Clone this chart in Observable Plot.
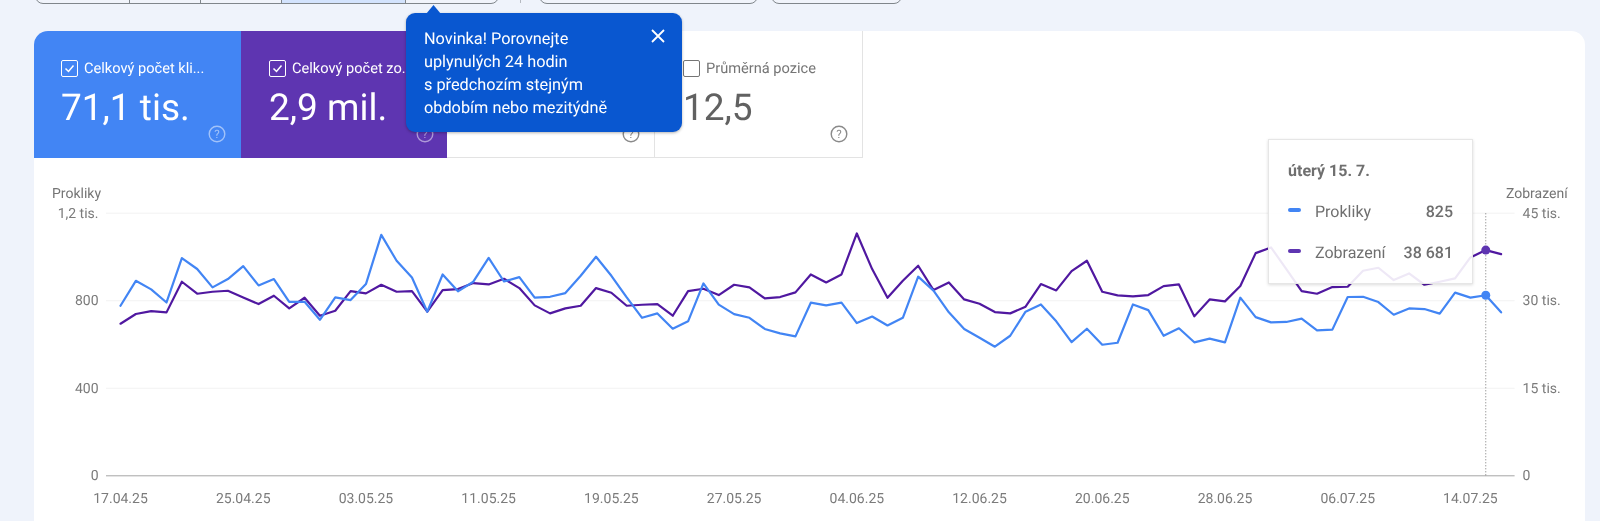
<!DOCTYPE html>
<html lang="cs">
<head>
<meta charset="utf-8">
<script src="https://cdn.jsdelivr.net/npm/d3@7"></script>
<script src="https://cdn.jsdelivr.net/npm/@observablehq/plot@0.6"></script>
<style>
html,body{margin:0;padding:0;background:#eff3fb;}
#page{position:relative;width:1600px;height:521px;overflow:hidden;background:#eff3fb;font-family:Roboto,sans-serif;color:#757575;text-rendering:geometricPrecision;}
#page div,#page span{position:absolute;box-sizing:border-box;white-space:nowrap;}
#card{left:34px;top:31px;width:1551px;height:520px;background:#fff;border-radius:14px 14px 0 0;}
.tab{top:31px;height:127px;will-change:transform;}
#t1{left:34px;width:207px;background:#4285f4;border-top-left-radius:14px;}
#t2{left:241px;width:206px;background:#5e35b1;}
#t3{left:447px;width:208px;background:#fff;border-bottom:1px solid #e3e3e3;border-right:1px solid #e3e3e3;}
#t4{left:655px;width:208px;background:#fff;border-bottom:1px solid #e3e3e3;border-right:1px solid #e3e3e3;}
.tab .lbl{left:51px;top:27px;font-size:14.6px;line-height:20px;}
.tab .big{left:28px;top:56px;font-size:37px;line-height:44px;}
.tab .chk{left:28px;top:29px;width:17px;height:17px;border:1.5px solid currentColor;border-radius:2px;}
.tab svg{position:absolute;}
.tab .hlp{left:175px;top:94px;}
#t1 .lbl,#t1 .big,#t1 .chk,#t1 svg:not(.hlp){margin-left:-1px;}
#t1 .hlp{margin-left:-1px;}
.on{color:#fff;}
.on .hlp{opacity:.5;}
.btn{top:-20px;height:24px;border:1px solid #80868b;border-radius:8px;background:#f1f4fb;}
.seg{top:-20px;height:24px;border-right:1px solid #80868b;}
#pop{left:406px;top:13px;width:276px;height:119px;background:#0957d0;border-radius:9px;color:#fff;box-shadow:0 1px 3px rgba(0,0,0,.3);z-index:5;will-change:transform;}
#pop .ln{left:18px;font-size:16.3px;line-height:22px;}
#arrow{left:426px;top:5px;width:15px;height:9px;background:#0957d0;clip-path:polygon(50% 0,100% 100%,0 100%);z-index:6;}
#tip{left:1268px;top:139px;width:205px;height:145px;background:rgba(255,255,255,.9);border:1px solid #e6e6e6;box-shadow:0 1px 3px rgba(0,0,0,.14);z-index:5;color:#6f6f6f;will-change:transform;}
#tip .d{left:19px;top:21px;font-size:16px;font-weight:700;line-height:20px;}
#tip .n{left:46px;font-size:16px;line-height:20px;}
#tip .v{right:19px;font-size:16px;font-weight:500;line-height:20px;}
#tip .sw{left:19px;width:13px;height:4px;border-radius:2px;}
.axt{font-size:14px;line-height:16px;top:186px;z-index:4;will-change:transform;}
#plotwrap{left:0;top:0;width:1600px;height:521px;z-index:3;will-change:transform;}
#plotwrap svg{display:block;}
</style>
</head>
<body>
<div id="page">
  <div class="btn" style="left:35px;width:464px"></div>
  <div style="left:282px;top:-20px;width:123px;height:23px;background:#d3e3fd"></div>
  <div class="seg" style="left:36px;width:94px"></div>
  <div class="seg" style="left:130px;width:71px"></div>
  <div class="seg" style="left:201px;width:81px"></div>
  <div class="seg" style="left:282px;width:124px"></div>
  <div style="left:520px;top:0;width:1px;height:3px;background:#b5b9c0"></div>
  <div class="btn" style="left:539px;width:219px"></div>
  <div class="btn" style="left:771px;width:131px"></div>

  <div id="card"></div>
  <div class="tab on" id="t1">
    <div class="chk"></div><svg style="left:31px;top:32px" width="11" height="11" viewBox="0 0 11 11"><path d="M1.5 5.5l3 3 5-6" fill="none" stroke="#fff" stroke-width="1.5"/></svg>
    <div class="lbl">Celkový počet kli...</div>
    <div class="big">71,1 tis.</div>
    <svg class="hlp" width="18" height="18" viewBox="0 0 18 18"><circle cx="9" cy="9" r="7.8" fill="none" stroke="#fff" stroke-width="1.4"/><text x="9" y="13" text-anchor="middle" font-size="11.5" font-family="Roboto" fill="#fff">?</text></svg>
  </div>
  <div class="tab on" id="t2">
    <div class="chk"></div><svg style="left:31px;top:32px" width="11" height="11" viewBox="0 0 11 11"><path d="M1.5 5.5l3 3 5-6" fill="none" stroke="#fff" stroke-width="1.5"/></svg>
    <div class="lbl">Celkový počet zo...</div>
    <div class="big">2,9 mil.</div>
    <svg class="hlp" width="18" height="18" viewBox="0 0 18 18"><circle cx="9" cy="9" r="7.8" fill="none" stroke="#fff" stroke-width="1.4"/><text x="9" y="13" text-anchor="middle" font-size="11.5" font-family="Roboto" fill="#fff">?</text></svg>
  </div>
  <div class="tab" id="t3">
    <svg class="hlp" width="18" height="18" viewBox="0 0 18 18"><circle cx="9" cy="9" r="7.8" fill="none" stroke="#8a8a8a" stroke-width="1.4"/><text x="9" y="13" text-anchor="middle" font-size="11.5" font-family="Roboto" fill="#8a8a8a">?</text></svg>
  </div>
  <div class="tab" id="t4">
    <div class="chk" style="color:#757575"></div>
    <div class="lbl">Průměrná pozice</div>
    <div class="big" style="color:#616161">12,5</div>
    <svg class="hlp" width="18" height="18" viewBox="0 0 18 18"><circle cx="9" cy="9" r="7.8" fill="none" stroke="#8a8a8a" stroke-width="1.4"/><text x="9" y="13" text-anchor="middle" font-size="11.5" font-family="Roboto" fill="#8a8a8a">?</text></svg>
  </div>

  <div class="axt" style="left:52px">Prokliky</div>
  <div class="axt" style="left:1506px">Zobrazení</div>
  <div id="plotwrap"></div>

  <div id="arrow"></div>
  <div id="pop">
    <div class="ln" style="top:15px">Novinka! Porovnejte</div>
    <div class="ln" style="top:38px">uplynulých 24 hodin</div>
    <div class="ln" style="top:61px">s předchozím stejným</div>
    <div class="ln" style="top:84px">obdobím nebo mezitýdně</div>
    <svg style="position:absolute;left:245px;top:16px" width="14" height="14" viewBox="0 0 14 14"><path d="M1 1l12 12M13 1L1 13" stroke="#fff" stroke-width="1.8" fill="none"/></svg>
  </div>

  <div id="tip">
    <div class="d">úterý 15. 7.</div>
    <div class="sw" style="top:68px;background:#4285f4"></div>
    <div class="n" style="top:62px">Prokliky</div>
    <div class="v" style="top:62px">825</div>
    <div class="sw" style="top:109px;background:#5e35b1"></div>
    <div class="n" style="top:103px">Zobrazení</div>
    <div class="v" style="top:103px">38 681</div>
  </div>
</div>
<script>
const startDate = new Date(Date.UTC(2025, 3, 17));
const clicks = [777,891,852,792,995,945,861,899,958,870,899,795,795,713,815,803,876,1101,983,906,750,920,843,887,996,888,908,814,818,835,914,1001,914,815,722,742,672,706,879,782,739,722,671,651,637,791,779,791,698,728,687,722,910,846,747,671,631,590,640,750,783,706,611,672,599,608,783,757,640,674,610,627,610,814,725,701,703,718,665,668,817,818,794,736,765,762,741,837,814,825,747];
const impressions = [26064,27719,28232,28004,33253,31199,31542,31713,30572,29430,30857,28689,30515,27433,28289,31656,31256,32740,31542,31656,28118,31827,31998,33025,32797,33767,32169,29202,27833,28689,29145,32169,31370,29145,29316,29430,27433,31656,32055,30971,32740,32283,30400,30629,31427,34509,33139,34509,41527,35422,30515,33425,35992,31827,33139,30229,29487,28061,27833,28974,32854,31770,35079,36848,31542,30914,30743,30971,32512,32797,27319,30229,29887,32512,38161,39131,35422,31656,31199,32340,32398,35136,35650,33539,34680,32740,33253,33824,37419,38681,37989];
const xTickLabels = ["17.04.25","25.04.25","03.05.25","11.05.25","19.05.25","27.05.25","04.06.25","12.06.25","20.06.25","28.06.25","06.07.25","14.07.25"];
const leftTicks = [0,400,800,1200];
const leftLabels = ["0","400","800","1,2 tis."];
const rightMax = 45000;
const rightLabels = ["0","15 tis.","30 tis.","45 tis."];
const gridValues = [400,800,1200];
const hoverIndex = 89;

const leftMax = 1200;
const toLeft = d3.scaleLinear([0,rightMax],[0,leftMax]);
const parseTick = d3.utcParse("%d.%m.%y");
const tickDates = xTickLabels.map(parseTick);
const rows = clicks.map((c,i)=>({date:d3.utcDay.offset(startDate,i),clicks:c,impressions:impressions[i]}));
const hover = [rows[hoverIndex]];
const gray = "#7b7b7b";

const chart = Plot.plot({
  width:1600,height:521,
  marginLeft:120,marginRight:99.4,marginTop:212.7,marginBottom:45.7,
  style:{background:"transparent",fontFamily:"Roboto, sans-serif",fontSize:"14px",textRendering:"geometricPrecision"},
  x:{type:"utc",domain:[rows[0].date,rows[rows.length-1].date]},
  y:{domain:[0,leftMax]},
  marks:[
    Plot.ruleY(gridValues,{stroke:"#f2f2f2",strokeWidth:1,insetLeft:-14,insetRight:-14}),
    Plot.ruleY([0],{stroke:"#a6a6a6",strokeWidth:1,insetLeft:-14,insetRight:-14}),
    Plot.axisY(leftTicks,{anchor:"left",tickSize:0,tickPadding:22,fill:gray,label:null,tickFormat:d=>leftLabels[leftTicks.indexOf(d)]}),
    Plot.axisY(leftTicks,{anchor:"right",tickSize:0,tickPadding:21.5,fill:gray,label:null,tickFormat:d=>rightLabels[leftTicks.indexOf(d)]}),
    Plot.axisX(tickDates,{anchor:"bottom",tickSize:0,tickPadding:17,fill:gray,label:null,tickFormat:d=>xTickLabels[tickDates.findIndex(t=>+t===+d)]}),
    Plot.ruleX(hover,{x:"date",y1:0,y2:leftMax,stroke:"#777",strokeWidth:1,strokeDasharray:"1,2"}),
    Plot.line(rows,{x:"date",y:d=>toLeft(d.impressions),stroke:"#5018a0",strokeWidth:2.2}),
    Plot.line(rows,{x:"date",y:"clicks",stroke:"#4285f4",strokeWidth:2.2}),
    Plot.dot(hover,{x:"date",y:d=>toLeft(d.impressions),r:4.5,fill:"#5e35b1"}),
    Plot.dot(hover,{x:"date",y:"clicks",r:4.5,fill:"#4285f4"})
  ]
});
document.getElementById("plotwrap").append(chart);
</script>
</body>
</html>
